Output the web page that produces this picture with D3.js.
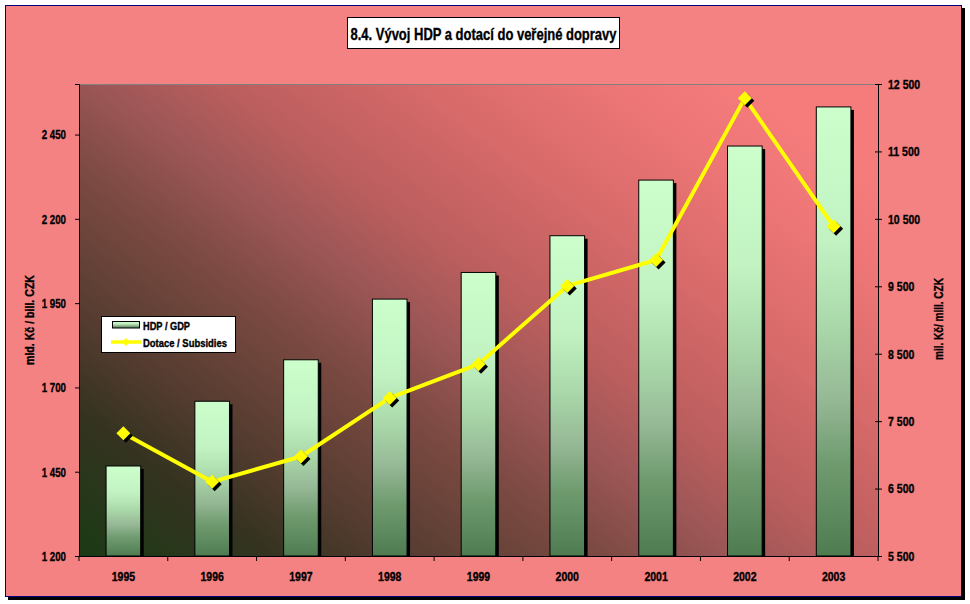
<!DOCTYPE html>
<html><head><meta charset="utf-8">
<script src="https://cdn.jsdelivr.net/npm/d3@7"></script>
<style>
body{margin:0;background:#fff}
svg{display:block}
text{font-family:"Liberation Sans",Arial,sans-serif;font-weight:bold;fill:#000;stroke:#000;stroke-width:0.35px}
</style>
</head><body>
<svg id="c" width="970" height="604"></svg>
<script>
const years = ["1995","1996","1997","1998","1999","2000","2001","2002","2003"];
const gdp = [1467,1659,1782,1962,2041,2150,2315,2416,2532];
const subsidies = [7320,6600,6975,7845,8345,9505,9890,12290,10390];
const leftTicks = [1200,1450,1700,1950,2200,2450];
const rightTicks = [5500,6500,7500,8500,9500,10500,11500,12500];
const titleText = "8.4. Vývoj HDP a dotací do veřejné dopravy";
const leftTitle = "mld. Kč / bill. CZK";
const rightTitle = "mil. Kč/ mill. CZK";
const legendLabels = ["HDP / GDP","Dotace / Subsidies"];

const svg = d3.select("#c");
const L = 79, R = 878, T = 84, B = 556;
const fmt = d3.formatLocale({decimal:",",thousands:" ",grouping:[3],currency:["",""]}).format(",");

function narrow(sel, factor){
  sel.each(function(){
    const w = this.getComputedTextLength();
    d3.select(this).attr("textLength", w*factor).attr("lengthAdjust","spacingAndGlyphs");
  });
}
function fixLen(sel, len){
  sel.attr("textLength", len).attr("lengthAdjust","spacingAndGlyphs");
}

const defs = svg.append("defs");
const bg = defs.append("linearGradient").attr("id","bgGrad")
  .attr("x1",0).attr("y1",1).attr("x2",1).attr("y2",0.2);
[[0,"#1a3a14"],[0.15,"#353320"],[0.25,"#553c30"],[0.4,"#7c4a42"],[0.5,"#9c5656"],[0.6,"#bc5e5e"],[0.75,"#d86a6a"],[0.9,"#ee7676"],[1,"#f67c7c"]]
  .forEach(s=>bg.append("stop").attr("offset",s[0]).attr("stop-color",s[1]));
const bg2 = defs.append("linearGradient").attr("id","barGrad").attr("x1",0).attr("y1",0).attr("x2",0).attr("y2",1);
[[0,"#ccffcc"],[0.3,"#c2f2c2"],[0.5,"#a8d6a8"],[0.65,"#96b896"],[0.8,"#6e9a6e"],[1,"#4e7c50"]]
  .forEach(s=>bg2.append("stop").attr("offset",s[0]).attr("stop-color",s[1]));

// outer frame
svg.append("rect").attr("x",8).attr("y",8).attr("width",957).attr("height",592).attr("fill","#000");
svg.append("rect").attr("x",5.5).attr("y",5.5).attr("width",956).attr("height",591)
  .attr("fill","#f48282").attr("stroke","#000080").attr("stroke-width",1);

// plot area
svg.append("rect").attr("x",L).attr("y",T).attr("width",R-L).attr("height",B-T).attr("fill","url(#bgGrad)");
svg.append("line").attr("x1",L).attr("x2",R).attr("y1",T+0.5).attr("y2",T+0.5).attr("stroke","#808080");

const x = d3.scaleBand().domain(years).range([L,R]).paddingInner(0.61).paddingOuter(0.305);
const xb = d3.scaleBand().domain(years).range([L,R]);
const yL = d3.scaleLinear().domain([1200,2600]).range([B,T]);
const yR = d3.scaleLinear().domain([5500,12500]).range([B,T]);

// bars
const g = svg.append("g");
g.selectAll(".sh").data(years).join("rect")
  .attr("x",d=>x(d)+3).attr("y",(d,i)=>yL(gdp[i])+3)
  .attr("width",x.bandwidth()).attr("height",(d,i)=>B-yL(gdp[i])-3).attr("fill","#000");
g.selectAll(".bar").data(years).join("rect")
  .attr("x",d=>x(d)).attr("y",(d,i)=>yL(gdp[i]))
  .attr("width",x.bandwidth()).attr("height",(d,i)=>B-yL(gdp[i]))
  .attr("fill","url(#barGrad)").attr("stroke","#000").attr("stroke-width",1);

// axes
const axL = svg.append("g").attr("transform",`translate(${L},0)`)
  .call(d3.axisLeft(yL).tickValues(leftTicks).tickFormat(fmt).tickSize(4).tickPadding(9));
const axR = svg.append("g").attr("transform",`translate(${R},0)`)
  .call(d3.axisRight(yR).tickValues(rightTicks).tickFormat(fmt).tickSize(4).tickPadding(6));
const axB = svg.append("g").attr("transform",`translate(0,${B})`)
  .call(d3.axisBottom(xb).tickSize(0).tickPadding(16));
[axL,axR,axB].forEach(a=>{
  a.select(".domain").attr("stroke","#000");
  a.selectAll("line").attr("stroke","#000");
  a.selectAll("text").attr("fill","#000");
});
axL.selectAll("text").style("font-size","13.5px"); narrow(axL.selectAll("text"),0.72);
axR.selectAll("text").style("font-size","13.5px"); narrow(axR.selectAll("text"),0.78);
axB.selectAll("text").style("font-size","12.5px"); narrow(axB.selectAll("text"),0.84);
axR.selectAll(".tick line").attr("x1",-3);
// x ticks at category boundaries
svg.append("g").selectAll("line").data(years.concat(["end"])).join("line")
  .attr("x1",(d,i)=>L+i*xb.step()).attr("x2",(d,i)=>L+i*xb.step())
  .attr("y1",B).attr("y2",B+5).attr("stroke","#000");

// line
const line = d3.line().x((d,i)=>x(years[i])+x.bandwidth()/2).y(d=>yR(d));
svg.append("path").datum(subsidies).attr("d",line).attr("fill","none")
  .attr("stroke","#ffff00").attr("stroke-width",4).attr("stroke-linejoin","round");
const dia = "M0,-7L7,0L0,7L-7,0Z";
svg.append("g").selectAll("path").data(subsidies).join("path")
  .attr("d",dia).attr("fill","#000")
  .attr("transform",(d,i)=>`translate(${x(years[i])+x.bandwidth()/2+2.5},${yR(d)+2.5})`);
svg.append("g").selectAll("path").data(subsidies).join("path")
  .attr("d",dia).attr("fill","#ffff00")
  .attr("transform",(d,i)=>`translate(${x(years[i])+x.bandwidth()/2},${yR(d)})`);

// axis titles
fixLen(svg.append("text").attr("transform","translate(34,320) rotate(-90)").attr("text-anchor","middle")
  .style("font-size","12.5px").text(leftTitle), 90);
fixLen(svg.append("text").attr("transform","translate(943,319) rotate(-90)").attr("text-anchor","middle")
  .style("font-size","12.5px").text(rightTitle), 82);

// title
svg.append("rect").attr("x",347.5).attr("y",17.5).attr("width",272).attr("height",31)
  .attr("fill","#fff").attr("stroke","#000");
fixLen(svg.append("text").attr("x",483.5).attr("y",39.5).attr("text-anchor","middle")
  .style("font-size","16.5px").text(titleText), 266);

// legend
const lg = svg.append("g");
lg.append("rect").attr("x",101.5).attr("y",316.5).attr("width",134).attr("height",36)
  .attr("fill","#fff").attr("stroke","#000");
lg.append("rect").attr("x",112.5).attr("y",321.5).attr("width",27).attr("height",6.5)
  .attr("fill","url(#barGrad)").attr("stroke","#000");
lg.append("line").attr("x1",111).attr("x2",141).attr("y1",342).attr("y2",342)
  .attr("stroke","#ffff00").attr("stroke-width",3.5);
lg.append("path").attr("d","M0,-4L4,0L0,4L-4,0Z").attr("fill","#ffff00").attr("transform","translate(126,342)");
const lt = lg.selectAll("text.l").data(legendLabels).join("text")
  .attr("x",143).attr("y",(d,i)=>329.5+i*17).style("font-size","10.5px").text(d=>d);
fixLen(lt.filter((d,i)=>i===0),47);
fixLen(lt.filter((d,i)=>i===1),84);
</script>
</body></html>
